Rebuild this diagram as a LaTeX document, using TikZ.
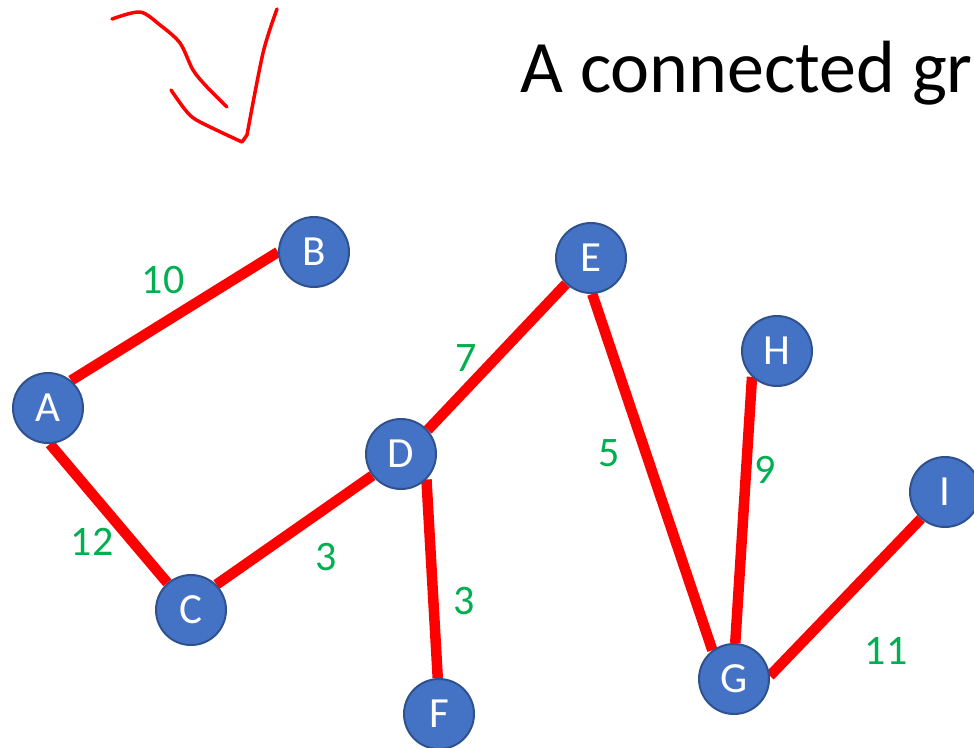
\documentclass[tikz,border=0pt]{standalone}
\usepackage{fontspec}
\setmainfont{Carlito}
\usetikzlibrary{backgrounds}
\definecolor{vblue}{HTML}{4472C4}
\definecolor{vrim}{HTML}{2F528F}
\definecolor{wgreen}{HTML}{00B050}
\begin{document}
\begin{tikzpicture}[x=1pt,y=-1pt,
  vertex/.style={circle, fill=vblue, draw=vrim, line width=2pt, minimum size=70pt, inner sep=0pt, text=white, font=\fontsize{43}{43}\selectfont},
  edge/.style={red, line width=10.5pt},
  weight/.style={text=wgreen, font=\fontsize{42}{42}\selectfont},
  scribble/.style={red, line width=3.5pt, line cap=round, line join=round}]
\useasboundingbox (0,0) rectangle (974,747);
\clip (0,0) rectangle (974,747);

\node[anchor=base west, font=\fontsize{74}{74}\selectfont] (title) at (517,92) {A connected gr};

\draw[scribble] plot[smooth] coordinates {(112,19) (140,12) (160,25) (180,43) (193,70) (207,87) (227,107)};
\draw[scribble] plot[smooth] coordinates {(171,90) (187,112) (200,122) (242,142)} -- (247,135) -- plot[smooth] coordinates {(247,135) (263,53) (277,9)};

\node[vertex] (A) at (48,408) {A};
\node[vertex] (B) at (314,252) {B};
\node[vertex] (C) at (191,610) {C};
\node[vertex] (D) at (401,454) {D};
\node[vertex] (E) at (591,258) {E};
\node[vertex] (F) at (439,714) {F};
\node[vertex] (G) at (734,679) {G};
\node[vertex] (H) at (777,351) {H};
\node[vertex] (I) at (945,492) {I};

\begin{pgfonlayer}{background}
\draw[edge] (A.50) -- (B.180);
\draw[edge] (A.273) -- (C.131);
\draw[edge] (C.45) -- (D.217);
\draw[edge] (D.42) -- (E.226);
\draw[edge] (D.315) -- (F.92);
\draw[edge] (E.272) -- (G.127);
\draw[edge] (H.226) -- (G.88);
\draw[edge] (G.5) -- (I.228);
\end{pgfonlayer}

\node[weight] (wAB) at (163,280) {10};
\node[weight] (wAC) at (92,542) {12};
\node[weight] (wCD) at (326,557) {3};
\node[weight] (wDE) at (466,358) {7};
\node[weight] (wDF) at (464,601) {3};
\node[weight] (wEG) at (609,453) {5};
\node[weight] (wHG) at (765,470) {9};
\node[weight] (wGI) at (886,651) {11};
\end{tikzpicture}
\end{document}
